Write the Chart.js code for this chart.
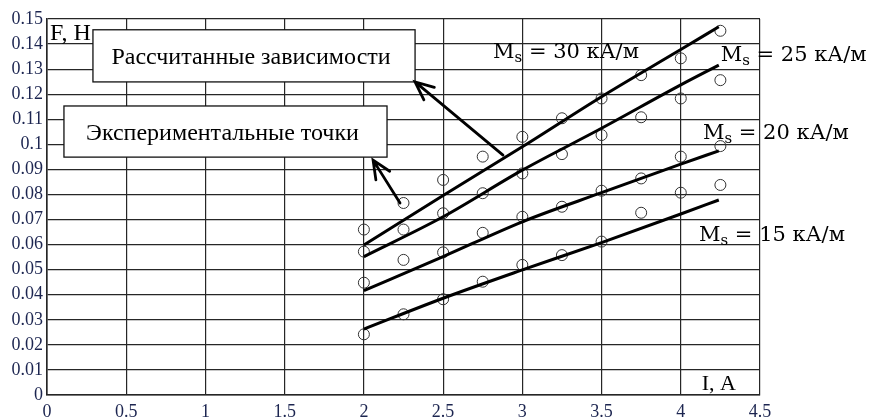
<!DOCTYPE html>
<html>
<head>
<meta charset="utf-8">
<script src="https://cdn.jsdelivr.net/npm/chart.js@4/dist/chart.umd.min.js"></script>
<style>
  html, body { margin: 0; padding: 0; background: #fff; }
  #wrap { width: 870px; height: 419px; }
</style>
</head>
<body>
<div id="wrap"><canvas id="chart" width="870" height="419"></canvas></div>
<script>
// measured points (current I, A)
const pointX = [2, 2.25, 2.5, 2.75, 3, 3.25, 3.5, 3.75, 4, 4.25];
const points30 = [0.066, 0.0766, 0.0858, 0.0951, 0.103, 0.1104, 0.1183, 0.1276, 0.1343, 0.1453];
const points25 = [0.0572, 0.066, 0.0725, 0.0805, 0.0884, 0.0961, 0.1037, 0.1108, 0.1183, 0.1256];
const points20 = [0.0448, 0.0539, 0.0569, 0.0647, 0.0711, 0.0751, 0.0815, 0.0864, 0.0951, 0.0993];
const points15 = [0.0242, 0.0322, 0.0382, 0.0452, 0.0519, 0.0558, 0.0612, 0.0727, 0.0807, 0.0838];

// calculated curves
const curveX = [2, 2.5, 3, 3.5, 4, 4.24];
const curve30 = [0.0598, 0.0796, 0.099, 0.119, 0.1378, 0.1469];
const curve25 = [0.0552, 0.0711, 0.0897, 0.1064, 0.1237, 0.1316];
const curve20 = [0.0416, 0.0552, 0.0691, 0.0807, 0.0921, 0.0974];
const curve15 = [0.0263, 0.0386, 0.0499, 0.0608, 0.0722, 0.0778];

const curveLabels = ['30', '25', '20', '15'];

const toXY = (xs, ys) => xs.map((x, i) => ({ x: x, y: ys[i] }));

const serif = "'Liberation Serif', 'Times New Roman', serif";
const mathFont = "'DejaVu Serif', serif";

// annotation layout, in data units
const boxes = [
  { text: 'Рассчитанные зависимости', x0: 0.29, x1: 2.323, y0: 0.1457, y1: 0.1249 },
  { text: 'Экспериментальные точки', x0: 0.107, x1: 2.146, y0: 0.1153, y1: 0.0949 }
];
const arrows = [
  { from: [2.878, 0.0957], to: [2.323, 0.1249] },
  { from: [2.228, 0.0766], to: [2.058, 0.0937] }
];
const msLabels = [
  { value: curveLabels[0], x: 2.815, y: 0.1343 },
  { value: curveLabels[1], x: 4.252, y: 0.1334 },
  { value: curveLabels[2], x: 4.14, y: 0.102 },
  { value: curveLabels[3], x: 4.115, y: 0.0615 }
];

const annotations = {
  id: 'annotations',
  afterDraw(chart) {
    const ctx = chart.ctx;
    const xs = chart.scales.x, ys = chart.scales.y;
    ctx.save();

    // axis captions
    ctx.fillStyle = '#000';
    ctx.font = '24px ' + serif;
    ctx.textBaseline = 'alphabetic';
    ctx.textAlign = 'left';
    ctx.fillText('F, H', xs.getPixelForValue(0.019), ys.getPixelForValue(0.1418));
    ctx.font = '22px ' + serif;
    ctx.textAlign = 'center';
    ctx.fillText('I, A', xs.getPixelForValue(4.24), ys.getPixelForValue(0.002));

    // boxes
    boxes.forEach(b => {
      const l = xs.getPixelForValue(b.x0), r = xs.getPixelForValue(b.x1);
      const t = ys.getPixelForValue(b.y0), btm = ys.getPixelForValue(b.y1);
      ctx.fillStyle = '#fff';
      ctx.fillRect(l, t, r - l, btm - t);
      ctx.strokeStyle = '#111';
      ctx.lineWidth = 1.3;
      ctx.strokeRect(l, t, r - l, btm - t);
      ctx.fillStyle = '#000';
      ctx.font = '24px ' + serif;
      ctx.textAlign = 'center';
      ctx.fillText(b.text, (l + r) / 2 - 3, (t + btm) / 2 + 8);
    });

    // arrows
    ctx.strokeStyle = '#000';
    ctx.lineWidth = 2.8;
    ctx.lineCap = 'round';
    arrows.forEach(a => {
      const x1 = xs.getPixelForValue(a.from[0]), y1 = ys.getPixelForValue(a.from[1]);
      const x2 = xs.getPixelForValue(a.to[0]), y2 = ys.getPixelForValue(a.to[1]);
      const ang = Math.atan2(y2 - y1, x2 - x1);
      const len = 20, spread = 0.42;
      ctx.beginPath();
      ctx.moveTo(x1, y1);
      ctx.lineTo(x2, y2);
      ctx.moveTo(x2 - len * Math.cos(ang - spread), y2 - len * Math.sin(ang - spread));
      ctx.lineTo(x2, y2);
      ctx.lineTo(x2 - len * Math.cos(ang + spread), y2 - len * Math.sin(ang + spread));
      ctx.stroke();
    });

    // Ms labels
    ctx.fillStyle = '#000';
    ctx.textAlign = 'left';
    msLabels.forEach(m => {
      let px = xs.getPixelForValue(m.x);
      const py = ys.getPixelForValue(m.y);
      ctx.font = '21px ' + mathFont;
      ctx.fillText('M', px, py);
      px += ctx.measureText('M').width;
      ctx.font = '15px ' + mathFont;
      ctx.fillText('s', px, py + 4);
      px += ctx.measureText('s').width;
      ctx.font = '21px ' + mathFont;
      ctx.fillText(' = ' + m.value + ' кА/м', px, py);
    });
    ctx.restore();
  }
};

const pointStyle = {
  showLine: false,
  pointRadius: 5.5,
  pointBorderWidth: 1,
  pointBorderColor: '#333',
  pointBackgroundColor: 'rgba(0,0,0,0)'
};
const lineStyle = {
  borderColor: '#000',
  borderWidth: 3,
  pointRadius: 0,
  cubicInterpolationMode: 'monotone',
  fill: false
};

const tickFmt = v => String(+v.toFixed(2));
const gridColor = '#262626';

new Chart(document.getElementById('chart').getContext('2d'), {
  type: 'line',
  data: {
    datasets: [
      Object.assign({ data: toXY(curveX, curve30) }, lineStyle),
      Object.assign({ data: toXY(curveX, curve25) }, lineStyle),
      Object.assign({ data: toXY(curveX, curve20) }, lineStyle),
      Object.assign({ data: toXY(curveX, curve15) }, lineStyle),
      Object.assign({ data: toXY(pointX, points30) }, pointStyle),
      Object.assign({ data: toXY(pointX, points25) }, pointStyle),
      Object.assign({ data: toXY(pointX, points20) }, pointStyle),
      Object.assign({ data: toXY(pointX, points15) }, pointStyle)
    ]
  },
  options: {
    responsive: false,
    animation: false,
    devicePixelRatio: 1,
    layout: { padding: { left: 0, top: 19, right: 110, bottom: 0 } },
    plugins: { legend: { display: false }, tooltip: { enabled: false } },
    scales: {
      x: {
        type: 'linear',
        min: 0, max: 4.5,
        afterFit: s => { s.height = 24; },
        ticks: { stepSize: 0.5, callback: tickFmt, padding: 6, color: '#1c2550', maxRotation: 0,
                 font: { family: serif, size: 18 } },
        grid: { color: gridColor, lineWidth: 1.2, drawTicks: false },
        border: { color: gridColor, width: 1.6 }
      },
      y: {
        min: 0, max: 0.15,
        afterFit: s => { s.width = 47; },
        ticks: { stepSize: 0.01, callback: tickFmt, padding: 4, color: '#1c2550',
                 font: { family: serif, size: 18 } },
        grid: { color: gridColor, lineWidth: 1.2, drawTicks: false },
        border: { color: gridColor, width: 1.6 }
      }
    }
  },
  plugins: [annotations]
});
</script>
</body>
</html>
